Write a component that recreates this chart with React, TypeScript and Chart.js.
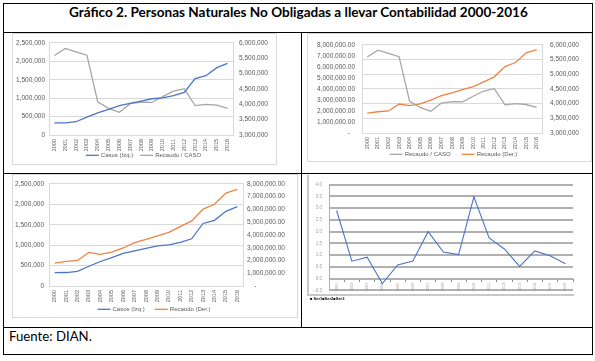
import React, { useEffect, useLayoutEffect, useRef } from 'react';
import { Chart, registerables } from 'chart.js';

Chart.register(...registerables);

// ---------- DATA ----------
const years = ['2000', '2001', '2002', '2003', '2004', '2005', '2006', '2007', '2008', '2009', '2010', '2011', '2012', '2013', '2014', '2015', '2016'];
const casos = [328000, 330000, 360000, 484000, 600000, 695000, 797000, 860000, 922000, 984000, 1008000, 1070000, 1156000, 1531000, 1609000, 1828000, 1945000];
const recaudo = [1800000, 1930000, 2000000, 2630000, 2480000, 2650000, 2980000, 3400000, 3650000, 3930000, 4200000, 4650000, 5100000, 6030000, 6400000, 7280000, 7580000];
const recaudoPorCaso = [5590000, 5820000, 5710000, 5600000, 4080000, 3870000, 3740000, 4020000, 4070000, 4060000, 4250000, 4430000, 4510000, 3960000, 4000000, 3970000, 3870000];
const growthYears = ['2001', '2002', '2003', '2004', '2005', '2006', '2007', '2008', '2009', '2010', '2011', '2012', '2013', '2014', '2015', '2016'];
const growth = [2.9, 0.74, 0.91, -0.21, 0.58, 0.75, 2.0, 1.13, 1.02, 3.48, 1.73, 1.26, 0.52, 1.18, 0.97, 0.63];

const TITLE = 'Gráfico 2. Personas Naturales No Obligadas a llevar Contabilidad 2000-2016';
const SOURCE = 'Fuente: DIAN.';
const LBL_CASOS = 'Casos (Izq.)';
const LBL_RATIO = 'Recaudo / CASO';
const LBL_RECAUDO = 'Recaudo (Der.)';
const SERIES_NOTE = '\u25A0 Ser1\u25A0Ser2\u25A0Ser3';

// ---------- STYLE ----------
const BLUE = '#4A76C6';
const GRAY = '#A5A5A5';
const ORANGE = '#EE8443';
const GRID = '#d9d9d9';
const TICK = '#595959';
const FONT = "'Liberation Sans', Arial, sans-serif";
const TEXT_FONT = "Lato, 'Open Sans', sans-serif";

const fmtInt = (v: any) => Number(v).toLocaleString('en-US');
const fmtDec = (side: 'left' | 'right') => (v: any) =>
  Number(v) === 0
    ? side === 'left' ? '-   ' : '    -'
    : Number(v).toLocaleString('en-US', { minimumFractionDigits: 2, maximumFractionDigits: 2 });

function yAxis(position: string, min: number, max: number, step: number, fmt: any, width: number, pad: number, grid: boolean) {
  return {
    position,
    min,
    max,
    ticks: { stepSize: step, padding: pad, callback: fmt, font: { family: FONT, size: 6.5 }, color: TICK },
    grid: { display: grid, color: GRID, drawTicks: false },
    border: { display: true, color: GRID },
    afterFit: (s: any) => { s.width = width; },
  };
}

function xAxis(height: number) {
  return {
    offset: true,
    grid: { display: false, drawTicks: false },
    border: { display: true, color: GRID },
    ticks: { autoSkip: false, minRotation: 90, maxRotation: 90, padding: 4, font: { family: FONT, size: 5.5 }, color: TICK },
    afterFit: (s: any) => { s.height = height; },
  };
}

const lineLegend = {
  id: 'lineLegend',
  afterDraw(chart: any, _args: any, opts: any) {
    if (!opts || !opts.display) return;
    const ctx = chart.ctx;
    ctx.save();
    ctx.font = `${opts.size}px ${FONT}`;
    ctx.textBaseline = 'middle';
    const items = chart.data.datasets.map((d: any) => ({ text: d.label, color: d.borderColor, w: d.borderWidth }));
    const widths = items.map((it: any) => opts.lineLen + opts.textGap + ctx.measureText(it.text).width);
    const total = widths.reduce((a: number, b: number) => a + b, 0) + opts.gap * (items.length - 1);
    let x = opts.cx - total / 2;
    items.forEach((it: any, i: number) => {
      ctx.strokeStyle = it.color;
      ctx.lineWidth = it.w;
      ctx.beginPath();
      ctx.moveTo(x, opts.y);
      ctx.lineTo(x + opts.lineLen, opts.y);
      ctx.stroke();
      ctx.fillStyle = TICK;
      ctx.fillText(it.text, x + opts.lineLen + opts.textGap, opts.y);
      x += widths[i] + opts.gap;
    });
    ctx.restore();
  },
};

const noteText = {
  id: 'noteText',
  afterDraw(chart: any, _args: any, opts: any) {
    if (!opts || !opts.text) return;
    const ctx = chart.ctx;
    ctx.save();
    ctx.font = `bold ${opts.size}px ${FONT}`;
    ctx.textBaseline = 'middle';
    ctx.fillStyle = '#000';
    ctx.fillText(opts.text, opts.x, opts.y);
    ctx.restore();
  },
};

const line = (label: string, data: number[], color: string, axis: string, width = 1.3) => ({
  label,
  data,
  borderColor: color,
  backgroundColor: color,
  borderWidth: width,
  pointRadius: 0,
  tension: 0,
  yAxisID: axis,
});

const base = {
  responsive: false,
  animation: false as const,
  events: [] as any[],
};

function config1(): any {
  return {
    type: 'line',
    data: { labels: years, datasets: [line(LBL_CASOS, casos, BLUE, 'y'), line(LBL_RATIO, recaudoPorCaso, GRAY, 'y1')] },
    options: {
      ...base,
      layout: { padding: { top: 5, left: 0, right: 0, bottom: 0 } },
      scales: {
        x: xAxis(29),
        y: yAxis('left', 0, 2500000, 500000, fmtInt, 36, 4, true),
        y1: yAxis('right', 3000000, 6000000, 500000, fmtInt, 43, 6, false),
      },
      plugins: {
        legend: { display: false },
        tooltip: { enabled: false },
        lineLegend: { display: true, cx: 130.5, y: 122.3, size: 6, lineLen: 13, textGap: 2, gap: 7 },
      },
    },
    plugins: [lineLegend],
  };
}

function config2(): any {
  return {
    type: 'line',
    data: { labels: years, datasets: [line(LBL_RATIO, recaudoPorCaso, GRAY, 'y1'), line(LBL_RECAUDO, recaudo, ORANGE, 'y')] },
    options: {
      ...base,
      layout: { padding: { top: 4, left: 0, right: 0, bottom: 0 } },
      scales: {
        x: xAxis(28),
        y: yAxis('left', 0, 8000000, 1000000, fmtDec('left'), 54, 7, false),
        y1: yAxis('right', 3000000, 6000000, 500000, fmtInt, 49, 8, true),
      },
      plugins: {
        legend: { display: false },
        tooltip: { enabled: false },
        lineLegend: { display: true, cx: 145.5, y: 121.3, size: 6, lineLen: 13, textGap: 2, gap: 11 },
      },
    },
    plugins: [lineLegend],
  };
}

function config3(): any {
  return {
    type: 'line',
    data: { labels: years, datasets: [line(LBL_CASOS, casos, BLUE, 'y'), line(LBL_RECAUDO, recaudo, ORANGE, 'y1')] },
    options: {
      ...base,
      layout: { padding: { top: 5, left: 0, right: 0, bottom: 0 } },
      scales: {
        x: xAxis(31),
        y: yAxis('left', 0, 2500000, 500000, fmtInt, 36, 5, true),
        y1: yAxis('right', 0, 8000000, 1000000, fmtDec('right'), 54, 4, false),
      },
      plugins: {
        legend: { display: false },
        tooltip: { enabled: false },
        lineLegend: { display: true, cx: 141, y: 134.3, size: 6, lineLen: 13, textGap: 2, gap: 10 },
      },
    },
    plugins: [lineLegend],
  };
}

function config4(): any {
  return {
    type: 'line',
    data: { labels: growthYears, datasets: [line('Serie1', growth, BLUE, 'y', 1.1)] },
    options: {
      ...base,
      layout: { padding: { top: 4, left: 0, right: 1, bottom: 12.7 } },
      scales: {
        x: {
          position: { y: 0 },
          offset: true,
          grid: { display: true, drawOnChartArea: false, drawTicks: true, tickLength: 3, offset: true, color: '#8c8c8c' },
          border: { display: false },
          ticks: { autoSkip: false, minRotation: 90, maxRotation: 90, padding: 1, font: { family: FONT, size: 4 }, color: '#a0a0a0' },
          afterFit: (s: any) => { s.height = 0; },
        },
        y: {
          position: 'left',
          min: -0.5,
          max: 4,
          ticks: { stepSize: 0.5, padding: 7, callback: (v: any) => Number(v).toFixed(1), font: { family: FONT, size: 4.5 }, color: '#a0a0a0' },
          grid: { color: '#b0b0b0', lineWidth: 2, drawTicks: false },
          border: { display: true, color: '#b0b0b0' },
          afterFit: (s: any) => { s.width = 21; },
        },
      },
      plugins: {
        legend: { display: false },
        tooltip: { enabled: false },
        noteText: { text: SERIES_NOTE, x: 2, y: 124, size: 4 },
      },
    },
    plugins: [noteText],
  };
}

const abs = (left: number, top: number, width: number, height: number, extra: any = {}) => ({
  position: 'absolute' as const, left, top, width, height, boxSizing: 'border-box' as const, ...extra,
});

export default function App() {
  const c1 = useRef<HTMLCanvasElement>(null);
  const c2 = useRef<HTMLCanvasElement>(null);
  const c3 = useRef<HTMLCanvasElement>(null);
  const c4 = useRef<HTMLCanvasElement>(null);
  const titleRef = useRef<HTMLSpanElement>(null);
  const srcRef = useRef<HTMLSpanElement>(null);

  useLayoutEffect(() => {
    const fit = (el: HTMLElement | null, target: number) => {
      if (!el) return;
      const w = el.offsetWidth;
      if (w) el.style.transform = `scaleX(${target / w})`;
    };
    fit(titleRef.current, 459);
    fit(srcRef.current, 83);
  }, []);

  useEffect(() => {
    const charts = [
      new Chart(c1.current as HTMLCanvasElement, config1()),
      new Chart(c2.current as HTMLCanvasElement, config2()),
      new Chart(c3.current as HTMLCanvasElement, config3()),
      new Chart(c4.current as HTMLCanvasElement, config4()),
    ];
    return () => charts.forEach((c) => c.destroy());
  }, []);

  const hl = (top: number, left: number, width: number) => <div style={abs(left, top, width, 1, { background: '#000' })} />;
  const vl = (left: number, top: number, height: number) => <div style={abs(left, top, 1, height, { background: '#000' })} />;

  return (
    <div style={{ position: 'absolute', left: 0, top: 0, width: 595, height: 361, background: '#fff', overflow: 'hidden' }}>
      {hl(3, 3, 590)}
      {hl(32, 3, 590)}
      {hl(173, 3, 590)}
      {hl(327, 3, 590)}
      {hl(354, 3, 590)}
      {vl(3, 3, 352)}
      {vl(592, 3, 352)}
      {vl(301, 32, 295)}

      <span
        ref={titleRef}
        style={{ position: 'absolute', left: 69, top: 5, whiteSpace: 'nowrap', fontFamily: TEXT_FONT, fontWeight: 700, fontSize: 14, lineHeight: '14px', color: '#000', transformOrigin: '0 0' }}
      >
        {TITLE}
      </span>

      <div style={abs(12, 33, 265, 132, { border: '1px solid #d9d9d9' })} />
      <div style={abs(307, 33, 285, 129, { border: '1px solid #d9d9d9' })} />
      <div style={abs(12, 174, 286, 144, { border: '1px solid #d9d9d9' })} />
      <div style={abs(307, 175, 267, 121, { borderLeft: '2px solid #c8c8c8', borderBottom: '2px solid #c8c8c8' })} />

      <canvas ref={c1} width={263} height={131} style={{ position: 'absolute', left: 13, top: 33 }} />
      <canvas ref={c2} width={283} height={128} style={{ position: 'absolute', left: 308, top: 33 }} />
      <canvas ref={c3} width={284} height={142} style={{ position: 'absolute', left: 13, top: 175 }} />
      <canvas ref={c4} width={266} height={128} style={{ position: 'absolute', left: 308, top: 175 }} />

      <span
        ref={srcRef}
        style={{ position: 'absolute', left: 9, top: 329, whiteSpace: 'nowrap', fontFamily: TEXT_FONT, fontWeight: 400, fontSize: 14, lineHeight: '14px', color: '#000', transformOrigin: '0 0' }}
      >
        {SOURCE}
      </span>
    </div>
  );
}
